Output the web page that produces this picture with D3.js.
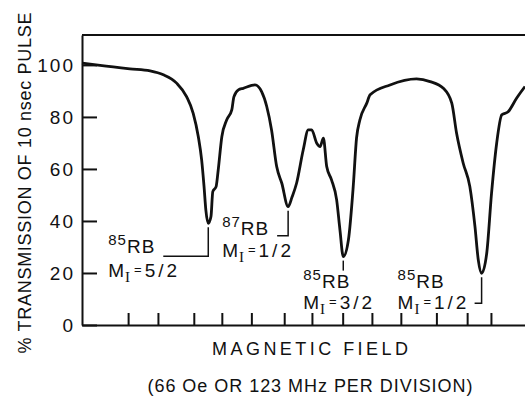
<!DOCTYPE html>
<html>
<head>
<meta charset="utf-8">
<script src="https://cdn.jsdelivr.net/npm/d3@7"></script>
<style>
body { margin: 0; background: #fff; }
text { font-family: "Liberation Sans", Arial, sans-serif; fill: #111; }
</style>
</head>
<body>
<div id="chart"></div>
<script>
// field in divisions, transmission in %
var fieldDiv = [0, 0.60, 1.59, 2.26, 2.70, 3.14, 3.47, 3.69, 3.86, 3.97, 4.05, 4.11, 4.19, 4.28, 4.34, 4.45,
    4.52, 4.64, 4.80, 4.97, 5.04, 5.19, 5.35, 5.74, 5.96, 6.13, 6.29, 6.46, 6.63, 6.84, 6.97, 7.12, 7.34,
    7.51, 7.62, 7.79, 7.90, 8.01, 8.12, 8.28, 8.45, 8.56, 8.67, 8.84, 9.00, 9.11, 9.22, 9.45, 9.56, 10.22,
    11.10, 11.55, 11.99, 12.27, 12.43, 12.65, 12.87, 13.04, 13.15, 13.26, 13.43, 13.59, 13.76, 13.93,
    14.14, 14.42, 14.70];
var transmission = [100.7, 99.8, 98.5, 97.7, 96.2, 93.0, 87.8, 81.4, 72.4, 63.5, 53.2, 44.2, 39.1, 41.7,
    51.3, 53.2, 59.6, 72.4, 78.8, 82.7, 87.7, 90.4, 91.0, 92.3, 89.7, 84.0, 75.0, 60.9, 54.5, 45.5, 49.2,
    54.5, 67.3, 75.0, 75.0, 69.9, 68.6, 71.8, 60.9, 55.8, 48.1, 36.5, 26.3, 32.7, 53.2, 71.9, 78.8, 85.3,
    88.5, 92.3, 94.6, 93.6, 91.0, 85.3, 73.7, 62.2, 53.2, 37.8, 25.0, 19.9, 27.6, 50.7, 69.9, 80.8, 82.0,
    87.2, 91.7];

var yTicks = [0, 20, 40, 60, 80, 100];
var xTicks = [1.53, 2.52, 3.71, 4.64, 5.62, 6.71, 7.63, 8.65, 9.62, 10.58, 11.76, 12.78, 13.57];

var isotopes = ["85", "87", "85", "85"];
var spins = ["5/2", "1/2", "3/2", "1/2"];
var dipField = [4.19, 6.84, 8.67, 13.26];

var yTitle = "% TRANSMISSION OF 10 nsec PULSE";
var xTitle = "MAGNETIC FIELD";
var xNote = "(66 Oe OR 123 MHz PER DIVISION)";

var width = 525, height = 402;
var margin = { top: 35, left: 82, bottom: 77 };

var svg = d3.select("#chart").append("svg")
    .attr("width", width)
    .attr("height", height);

var x = d3.scaleLinear().domain([0, 14.7]).range([margin.left, width]);
var y = d3.scaleLinear().domain([0, 111.5]).range([height - margin.bottom, margin.top]);

// left axis, ticks pointing inward
var yAxis = svg.append("g")
    .attr("transform", "translate(" + margin.left + ",0)")
    .call(d3.axisLeft(y).tickValues(yTicks).tickSize(-15).tickSizeOuter(0).tickPadding(7));
yAxis.selectAll("line").attr("stroke", "#111").attr("stroke-width", 2);
yAxis.select(".domain").attr("stroke", "#111").attr("stroke-width", 2);
yAxis.selectAll("text")
    .style("font-size", "19px")
    .style("letter-spacing", "2px")
    .attr("fill", "#111");

var xAxis = svg.append("g")
    .attr("transform", "translate(0," + y(0) + ")")
    .call(d3.axisBottom(x).tickValues(xTicks).tickSize(-12).tickSizeOuter(0).tickFormat(""));
xAxis.selectAll("line").attr("stroke", "#111").attr("stroke-width", 2);
xAxis.select(".domain").attr("stroke", "#111").attr("stroke-width", 2);

// top frame line
svg.append("line")
    .attr("x1", x.range()[0]).attr("x2", x.range()[1])
    .attr("y1", y(y.domain()[1])).attr("y2", y(y.domain()[1]))
    .attr("stroke", "#111").attr("stroke-width", 2);

var pts = fieldDiv.map(function (f, i) { return [f, transmission[i]]; });

var line = d3.line()
    .x(function (d) { return x(d[0]); })
    .y(function (d) { return y(d[1]); })
    .curve(d3.curveMonotoneX);

svg.append("path")
    .datum(pts)
    .attr("d", line)
    .attr("fill", "none")
    .attr("stroke", "#111")
    .attr("stroke-width", 2.8)
    .attr("stroke-linejoin", "round");

// label placement relative to each dip (px)
var labelLayout = [
    { tx: -100, rb: 30, mi: 54, lead: 33, hx: -45 },
    { tx: -66, rb: 28, mi: 50, lead: 29, hx: -11 },
    { tx: -40, rb: 31, mi: 52, lead: 14, hx: 0 },
    { tx: -84, rb: 15, mi: 36, lead: 30, hx: -7 }
];

dipField.forEach(function (f, i) {
    var v = transmission[fieldDiv.indexOf(f)];
    var px = x(f), py = y(v);
    var L = labelLayout[i];

    var lead = "M" + px + "," + (py + 4) + "V" + (py + L.lead);
    if (L.hx) lead += "H" + (px + L.hx);
    svg.append("path")
        .attr("d", lead)
        .attr("fill", "none")
        .attr("stroke", "#111")
        .attr("stroke-width", 1.5);

    var t1 = svg.append("text")
        .attr("x", px + L.tx)
        .attr("y", py + L.rb);
    t1.append("tspan").attr("dy", -8).style("font-size", "15px").style("letter-spacing", "1px").text(isotopes[i]);
    t1.append("tspan").attr("dy", 8).style("font-size", "19px").style("letter-spacing", "1px").text("RB");

    var t2 = svg.append("text")
        .attr("x", px + L.tx)
        .attr("y", py + L.mi);
    t2.append("tspan").style("font-size", "19px").text("M");
    t2.append("tspan").attr("dy", 5).attr("dx", 1)
        .style("font-family", "'Liberation Serif', serif").style("font-size", "15px").text("I");
    t2.append("tspan").attr("dy", -8).attr("dx", 4).style("font-size", "13px").text("=");
    t2.append("tspan").attr("dy", 3).attr("dx", 3).style("font-size", "19px").style("letter-spacing", "3px").text(spins[i]);
});

// titles
svg.append("text")
    .attr("transform", "translate(31,183) rotate(-90)")
    .attr("text-anchor", "middle")
    .attr("textLength", 341)
    .attr("lengthAdjust", "spacing")
    .style("font-size", "18px")
    .text(yTitle);

svg.append("text")
    .attr("x", 310)
    .attr("y", 355)
    .attr("text-anchor", "middle")
    .attr("textLength", 196)
    .attr("lengthAdjust", "spacing")
    .style("font-size", "18px")
    .text(xTitle);

svg.append("text")
    .attr("x", 310)
    .attr("y", 392)
    .attr("text-anchor", "middle")
    .attr("textLength", 325)
    .attr("lengthAdjust", "spacing")
    .style("font-size", "18px")
    .text(xNote);
</script>
</body>
</html>
